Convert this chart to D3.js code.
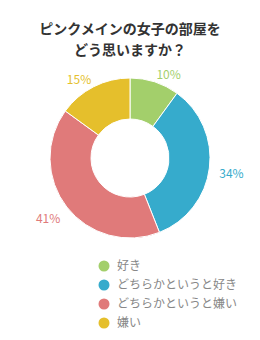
<!DOCTYPE html>
<html><head><meta charset="utf-8">
<script src="https://cdn.jsdelivr.net/npm/d3@7"></script>
<style>body{margin:0;background:#fff;}svg{display:block;}</style>
</head><body>
<svg id="c" width="260" height="340"></svg>
<script>
const titleLines = ["ピンクメインの女子の部屋を", "どう思いますか？"];
const categories = ["好き", "どちらかというと好き", "どちらかというと嫌い", "嫌い"];
const values = [10, 34, 41, 15];
const colors = ["#a3cf6b", "#36abcc", "#e07a7a", "#e5bf2c"];

const svg = d3.select("#c");
const font = "'Noto Sans CJK JP', 'Noto Sans', sans-serif";

svg.append("g").selectAll("text").data(titleLines).join("text")
  .attr("x", 130).attr("y", (d, i) => 34 + i * 20.5)
  .attr("text-anchor", "middle")
  .attr("font-family", font).attr("font-weight", "bold").attr("font-size", 14)
  .attr("fill", "#333").text(d => d);

const cx = 130, cy = 158, R = 80, r0 = 39;
const pie = d3.pie().sort(null).value(d => d);
const arcs = pie(values);
const arc = d3.arc().innerRadius(r0).outerRadius(R);
const g = svg.append("g").attr("transform", `translate(${cx},${cy})`);
g.selectAll("path").data(arcs).join("path")
  .attr("d", arc).attr("fill", (d, i) => colors[i])
  .attr("stroke", "#fff").attr("stroke-width", 1);

const labelArc = d3.arc().innerRadius(92).outerRadius(92);
g.selectAll("text").data(arcs).join("text")
  .attr("transform", d => {
    const c = labelArc.centroid(d);
    const right = (d.startAngle + d.endAngle) / 2 < Math.PI;
    return `translate(${c[0] + (right ? -2 : 3)},${c[1] + 4})`;
  })
  .attr("text-anchor", d => ((d.startAngle + d.endAngle) / 2 < Math.PI ? "start" : "end"))
  .attr("dy", "0.35em")
  .attr("font-family", font).attr("font-size", 12)
  .attr("fill", (d, i) => colors[i])
  .text(d => d.data + "%");

const y = d3.scalePoint().domain(categories).range([266, 323]);
const lg = svg.append("g");
const items = lg.selectAll("g").data(categories).join("g")
  .attr("transform", d => `translate(104,${y(d)})`);
items.append("circle").attr("r", 5.5).attr("fill", (d, i) => colors[i]);
items.append("text").attr("x", 13).attr("dy", "0.35em")
  .attr("font-family", font).attr("font-size", 12).attr("fill", "#888")
  .text(d => d);
</script>
</body></html>
